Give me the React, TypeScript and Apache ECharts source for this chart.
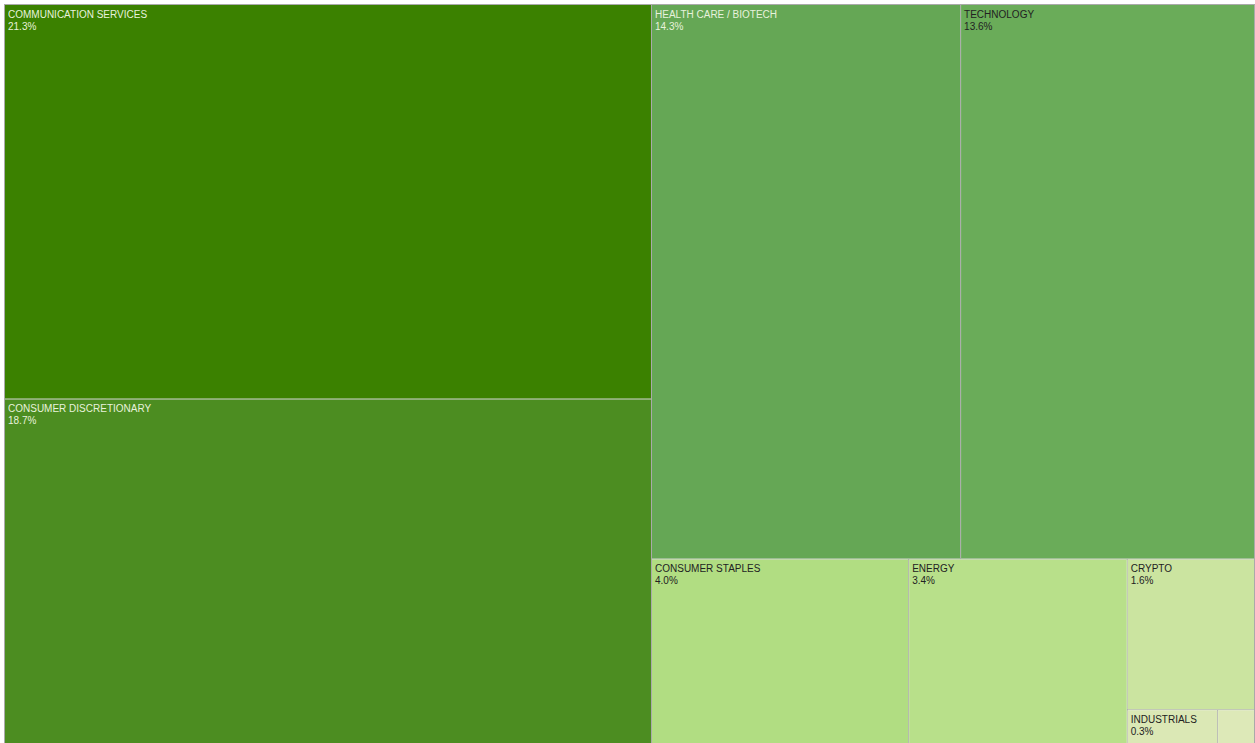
import React, { useEffect, useRef } from "react";
import * as echarts from "echarts";

const categories = [
  "COMMUNICATION SERVICES",
  "CONSUMER DISCRETIONARY",
  "HEALTH CARE / BIOTECH",
  "TECHNOLOGY",
  "CONSUMER STAPLES",
  "ENERGY",
  "CRYPTO",
  "INDUSTRIALS",
  "OTHER",
];
const values = [21.3, 18.7, 14.3, 13.6, 4.0, 3.4, 1.6, 0.27, 0.11];
const fillColors = [
  "#3b8100",
  "#4c8d21",
  "#65a755",
  "#6aac59",
  "#b1dd82",
  "#b8e08a",
  "#cbe4a0",
  "#dbe8b5",
  "#dde9b8",
];
const labelColors = [
  "#e8f2dc",
  "#e8f2dc",
  "#e8f2dc",
  "#222222",
  "#222222",
  "#222222",
  "#222222",
  "#222222",
  "#222222",
];
const showLabel = [true, true, true, true, true, true, true, true, false];

export default function App() {
  const ref = useRef<HTMLDivElement>(null);
  useEffect(() => {
    if (!ref.current) return;
    const chart = echarts.init(ref.current, null, { renderer: "svg" });
    const data = categories.map((name, i) => ({
      name,
      value: values[i],
      itemStyle: { color: fillColors[i] },
      label: { show: showLabel[i], color: labelColors[i] },
    }));
    chart.setOption({
      animation: false,
      tooltip: { show: false },
      series: [
        {
          type: "treemap",
          left: 4,
          top: 4,
          width: 1251,
          height: 742,
          roam: false,
          nodeClick: false,
          breadcrumb: { show: false },
          squareRatio: 0.5 * (1 + Math.sqrt(5)),
          visibleMin: 0,
          levels: [
            {
              itemStyle: {
                borderColor: "#aaaaaa",
                borderWidth: 1,
                gapWidth: 1,
              },
            },
          ],
          itemStyle: { borderWidth: 0 },
          label: {
            show: true,
            position: "insideTopLeft",
            fontFamily: "'Liberation Sans', Arial, sans-serif",
            fontSize: 10,
            lineHeight: 12,
            padding: [3, 3, 3, 3],
            formatter: (p: any) => `${p.name}\n${Number(p.value).toFixed(1)}%`,
          },
          data,
        },
      ],
    });
    return () => chart.dispose();
  }, []);
  return (
    <div
      ref={ref}
      style={{ position: "absolute", left: 0, top: 0, width: 1255, height: 743 }}
    />
  );
}
